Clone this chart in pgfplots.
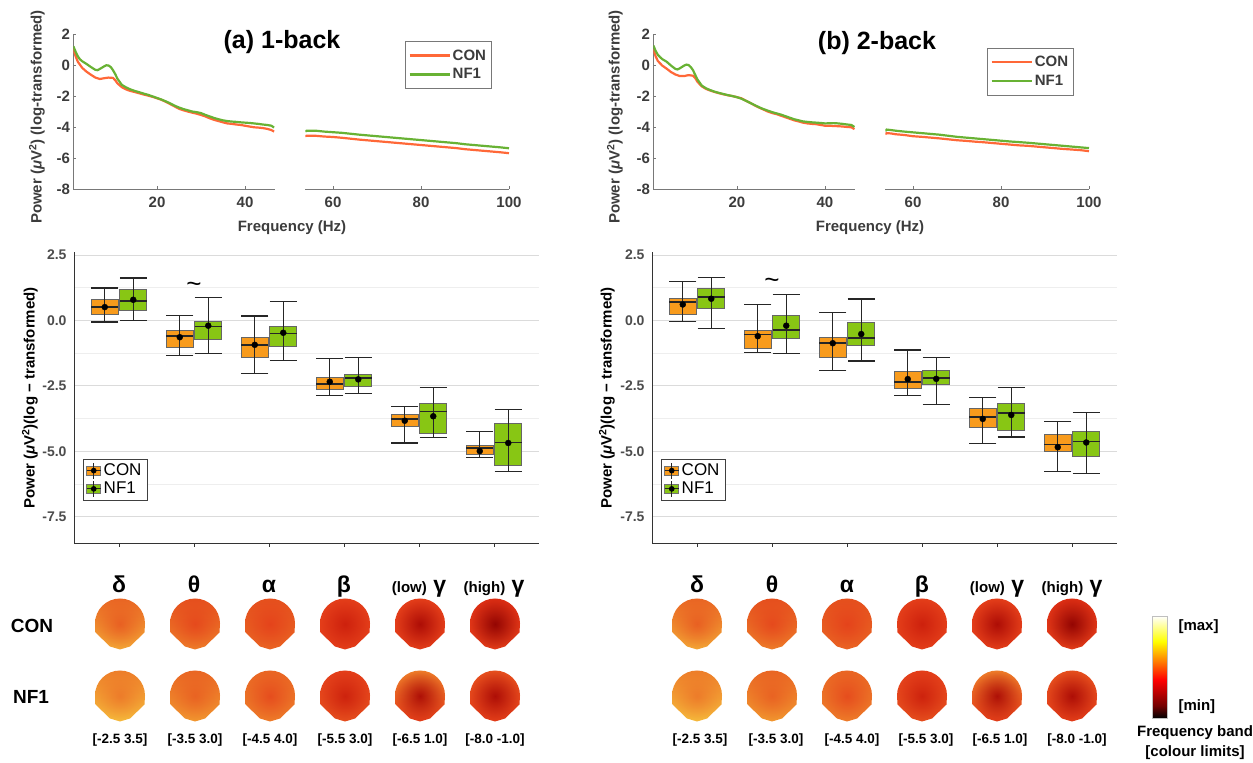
\documentclass[border=0pt]{standalone}
\usepackage{fontspec}
\setmainfont{Liberation Sans}
\usepackage{pgfplots}
\pgfplotsset{compat=1.18}
\usepgfplotslibrary{statistics}
\usetikzlibrary{fadings}

\definecolor{conline}{RGB}{255,104,56}
\definecolor{nfline}{RGB}{104,178,52}
\definecolor{conbox}{RGB}{248,155,28}
\definecolor{nfbox}{RGB}{136,198,20}
\definecolor{axgray}{RGB}{120,120,120}
\definecolor{txtgray}{RGB}{60,60,60}
% topo palette
\definecolor{y1}{HTML}{F6BC3C}
\definecolor{o1}{HTML}{F29A30}
\definecolor{o2}{HTML}{EE7E2A}
\definecolor{o3}{HTML}{EA6624}
\definecolor{o4}{HTML}{E6501E}
\definecolor{r1}{HTML}{E43E1A}
\definecolor{r2}{HTML}{DC2E14}
\definecolor{r3}{HTML}{C81A0A}
\definecolor{r4}{HTML}{A80804}
\definecolor{r5}{HTML}{8C0000}

\newcommand{\fs}[1]{\fontsize{#1}{#1}\selectfont}

\tikzfading[name=centrefade, inner color=transparent!0, outer color=transparent!100]
\pgfdeclareverticalshading{hotmap}{100bp}{color(0bp)=(black); color(25bp)=(black); color(31bp)=(red!45!black); color(43.75bp)=(red); color(53bp)=(orange); color(62.5bp)=(yellow); color(75bp)=(white); color(100bp)=(white)}

\pgfplotsset{
  spec/.style={scale only axis, height=154.3pt, ymin=-8, ymax=2,
    ytick={-8,-6,-4,-2,0,2},
    axis line style={axgray, line width=0.8pt},
    tick style={axgray, line width=0.6pt}, tick align=inside, major tick length=3pt,
    ticklabel style={font=\bfseries\fs{15}, text=txtgray},
    xticklabel shift=5pt,
    /pgf/number format/assume math mode=true},
  lineleg/.style={legend style={anchor=north west, draw=axgray, line width=0.8pt,
    font=\bfseries\fs{15}, text=txtgray, cells={anchor=west},
    inner ysep=6pt, inner xsep=3pt, row sep=3pt}},
  bx/.style={scale only axis, width=465pt, height=290.6pt,
    xmin=0.4, xmax=6.6, ymin=-8.5, ymax=2.6, clip=false,
    axis lines*=left, axis line style={black!80, line width=0.9pt},
    xtick={1,2,3,4,5,6}, ytick={-7.5,-5,-2.5,0,2.5},
    minor ytick={-6.25,-3.75,-1.25,1.25},
    ymajorgrids, yminorgrids,
    major grid style={gray!28, line width=1pt},
    minor grid style={gray!13, line width=0.9pt},
    xtick style={black!80, line width=0.8pt}, ytick style={draw=none},
    tick align=outside, major tick length=4pt,
    yticklabel={\pgfmathprintnumber[fixed,fixed zerofill,precision=1,assume math mode=true]{\tick}},
    yticklabel style={font=\bfseries\fs{14}, text=black!70},
    xticklabels={δ,θ,α,β,{{\fs{15}(low)} γ},{{\fs{15}(high)} γ}},
    xticklabel style={font=\bfseries\fs{23}, anchor=base, yshift=-46pt},
    boxplot/draw direction=y,
    boxplot/every box/.style={draw=black!60, line width=0.8pt},
    boxplot/every whisker/.style={black!85, line width=1.1pt},
    boxplot/every median/.style={black!85, line width=1.8pt},
    legend style={at={(0.019,0.289)}, anchor=north west, draw=black!75,
      line width=0.8pt, font=\fs{17}, cells={anchor=west}, nodes={inner sep=2.5pt}}}
}

% position, lower whisker, lower quartile, median, upper quartile, upper whisker, mean, colour
\newcommand{\bx}[8]{%
  \addplot[forget plot, fill=#8, boxplot prepared={draw position=#1,
    lower whisker=#2, lower quartile=#3, median=#4, upper quartile=#5,
    upper whisker=#6, box extend=0.36, whisker extend=0.36}] coordinates {};
  \addplot[forget plot, black!85, line width=1.1pt] coordinates {(#1,#2) (#1,#6)};
  \addplot[forget plot, only marks, mark=*, mark size=3pt, black] coordinates {(#1,#7)};
}

\newcommand{\boxleg}[1]{%
  \addlegendimage{legend image code/.code={
    \draw[fill=#1, draw=black!55, line width=0.6pt] (0pt,-4.5pt) rectangle (14pt,4.5pt);
    \draw[black!85, line width=0.8pt] (7pt,-8pt) -- (7pt,8pt);
    \draw[black!85, line width=1pt] (0pt,0pt) -- (14pt,0pt);
    \fill[black] (7pt,0pt) circle (2.4pt);}}}

% x, y, top colour, bottom colour, centre colour, centre opacity
\newcommand{\head}[6]{%
  \begin{scope}[shift={(#1pt,#2pt)}]
    \shade[top color=#3, bottom color=#4] (-25pt,0pt) arc[start angle=180,end angle=0,radius=25pt]
      -- (24.5pt,-9pt) -- (10pt,-23pt) -- (0pt,-26pt) -- (-10pt,-23pt) -- (-24.5pt,-9pt) -- cycle;
    \fill[#5, path fading=centrefade, fill opacity=#6] (-25pt,0pt) arc[start angle=180,end angle=0,radius=25pt]
      -- (24.5pt,-9pt) -- (10pt,-23pt) -- (0pt,-26pt) -- (-10pt,-23pt) -- (-24.5pt,-9pt) -- cycle;
  \end{scope}}

\begin{document}
\begin{tikzpicture}
\useasboundingbox (0pt,0pt) rectangle (1253pt,763pt);

% ---------------- (a) spectra ----------------
\begin{axis}[spec, at={(73.4pt,574pt)}, anchor=south west, width=201.1pt,
  xmin=1, xmax=46.7, xtick={20,40}, axis x line*=bottom, axis y line*=left]
\addplot[conline, line width=2.2pt] coordinates {
(1,1.1) (1.5,0.6) (2,0.25) (2.5,0.05) (3,-0.15) (4,-0.4) (5,-0.6) (6,-0.78) (7,-0.87)
(8,-0.82) (9,-0.78) (10,-0.8) (10.5,-0.95) (11,-1.15) (12,-1.4) (13,-1.55) (14,-1.65)
(15,-1.72) (16,-1.8) (17,-1.88) (18,-1.95) (19,-2.03) (20,-2.12) (21,-2.22) (22,-2.35)
(23,-2.5) (24,-2.65) (25,-2.8) (26,-2.9) (27,-2.98) (28,-3.05) (29,-3.12) (30,-3.2)
(31,-3.3) (32,-3.42) (33,-3.52) (34,-3.6) (35,-3.68) (36,-3.75) (37,-3.78) (38,-3.82)
(39,-3.85) (40,-3.9) (41,-3.95) (42,-4.0) (43,-4.02) (44,-4.05) (45,-4.1) (46,-4.18) (46.6,-4.28)};
\addplot[nfline, line width=2.2pt] coordinates {
(1,1.25) (1.5,0.9) (2,0.6) (2.5,0.4) (3,0.28) (4,0.1) (5,-0.1) (6,-0.28) (6.5,-0.3)
(7,-0.22) (8,-0.05) (8.5,0.02) (9,0.0) (9.5,-0.1) (10,-0.3) (10.5,-0.55) (11,-0.85)
(11.5,-1.05) (12,-1.25) (13,-1.42) (14,-1.55) (15,-1.65) (16,-1.73) (17,-1.82) (18,-1.9)
(19,-2.0) (20,-2.1) (21,-2.2) (22,-2.32) (23,-2.45) (24,-2.6) (25,-2.72) (26,-2.82)
(27,-2.9) (28,-2.98) (29,-3.02) (30,-3.08) (31,-3.2) (32,-3.3) (33,-3.4) (34,-3.48)
(35,-3.55) (36,-3.6) (37,-3.63) (38,-3.65) (39,-3.68) (40,-3.7) (41,-3.72) (42,-3.75)
(43,-3.78) (44,-3.82) (45,-3.85) (46,-3.9) (46.6,-4.02)};
\end{axis}
\begin{axis}[spec, at={(305.3pt,574pt)}, anchor=south west, width=203.7pt,
  xmin=53.7, xmax=100, xtick={60,80,100}, ytick=\empty, axis x line*=bottom, axis y line=none,
  lineleg, legend style={at={(0.49,0.958)}},
  legend image code/.code={\draw[#1, line width=2.2pt] (0pt,0pt) -- (40pt,0pt);}]
\addplot[conline, line width=2.2pt] coordinates {
(53.7,-4.58) (54,-4.55) (56,-4.55) (58,-4.6) (60,-4.63) (62,-4.68) (64,-4.74) (66,-4.8)
(68,-4.85) (70,-4.9) (72,-4.95) (74,-5.0) (76,-5.05) (78,-5.1) (80,-5.15) (82,-5.2)
(84,-5.25) (86,-5.3) (88,-5.35) (90,-5.42) (92,-5.47) (94,-5.52) (96,-5.57) (98,-5.62) (100,-5.68)};
\addplot[nfline, line width=2.2pt] coordinates {
(53.7,-4.28) (54,-4.22) (56,-4.22) (58,-4.28) (60,-4.32) (62,-4.36) (64,-4.42) (66,-4.48)
(68,-4.53) (70,-4.58) (72,-4.63) (74,-4.68) (76,-4.73) (78,-4.78) (80,-4.83) (82,-4.88)
(84,-4.93) (86,-4.98) (88,-5.03) (90,-5.1) (92,-5.15) (94,-5.2) (96,-5.25) (98,-5.3) (100,-5.36)};
\legend{CON,NF1}
\end{axis}

% ---------------- (b) spectra ----------------
\begin{axis}[spec, at={(653.4pt,574pt)}, anchor=south west, width=201.5pt,
  xmin=1, xmax=46.8, xtick={20,40}, axis x line*=bottom, axis y line*=left]
\addplot[conline, line width=2.2pt] coordinates {
(1,1.05) (1.5,0.6) (2,0.3) (2.5,0.15) (3,0.0) (4,-0.2) (5,-0.42) (6,-0.58) (7,-0.68)
(8,-0.68) (9,-0.62) (10,-0.66) (10.5,-0.8) (11,-1.05) (12,-1.35) (13,-1.52) (14,-1.63)
(15,-1.72) (16,-1.8) (17,-1.87) (18,-1.93) (19,-1.98) (20,-2.05) (21,-2.12) (22,-2.28)
(23,-2.42) (24,-2.58) (25,-2.72) (26,-2.85) (27,-2.98) (28,-3.08) (29,-3.15) (30,-3.25)
(31,-3.35) (32,-3.45) (33,-3.55) (34,-3.62) (35,-3.7) (36,-3.75) (37,-3.78) (38,-3.8)
(39,-3.85) (40,-3.9) (41,-3.9) (42,-3.92) (43,-3.93) (44,-3.95) (45,-3.98) (46,-4.0) (46.7,-4.12)};
\addplot[nfline, line width=2.2pt] coordinates {
(1,1.3) (1.5,0.95) (2,0.7) (2.5,0.55) (3,0.42) (4,0.25) (5,0.0) (6,-0.22) (6.5,-0.25)
(7,-0.18) (8,0.0) (8.5,0.06) (9,0.03) (9.5,-0.1) (10,-0.3) (10.5,-0.6) (11,-0.9)
(11.5,-1.1) (12,-1.3) (13,-1.48) (14,-1.6) (15,-1.7) (16,-1.78) (17,-1.85) (18,-1.92)
(19,-1.98) (20,-2.05) (21,-2.15) (22,-2.28) (23,-2.42) (24,-2.56) (25,-2.7) (26,-2.82)
(27,-2.92) (28,-3.02) (29,-3.1) (30,-3.18) (31,-3.28) (32,-3.38) (33,-3.48) (34,-3.55)
(35,-3.62) (36,-3.65) (37,-3.68) (38,-3.7) (39,-3.72) (40,-3.75) (41,-3.74) (42,-3.73)
(43,-3.75) (44,-3.78) (45,-3.82) (46,-3.85) (46.7,-3.98)};
\end{axis}
\begin{axis}[spec, at={(885.3pt,574pt)}, anchor=south west, width=203.7pt,
  xmin=53.7, xmax=100, xtick={60,80,100}, ytick=\empty, axis x line*=bottom, axis y line=none,
  lineleg, legend style={at={(0.5,0.914)}},
  legend image code/.code={\draw[#1, line width=2.2pt] (0pt,0pt) -- (40pt,0pt);}]
\addplot[conline, line width=2.2pt] coordinates {
(53.7,-4.45) (54,-4.38) (55,-4.4) (56,-4.45) (58,-4.5) (60,-4.58) (62,-4.62) (64,-4.67)
(66,-4.72) (68,-4.78) (70,-4.84) (72,-4.88) (74,-4.93) (76,-4.97) (78,-5.02) (80,-5.07)
(82,-5.12) (84,-5.17) (86,-5.2) (88,-5.25) (90,-5.3) (92,-5.35) (94,-5.4) (96,-5.44) (98,-5.48) (100,-5.55)};
\addplot[nfline, line width=2.2pt] coordinates {
(53.7,-4.25) (54,-4.15) (55,-4.18) (56,-4.22) (58,-4.28) (60,-4.33) (62,-4.38) (64,-4.43)
(66,-4.48) (68,-4.55) (70,-4.62) (72,-4.67) (74,-4.72) (76,-4.77) (78,-4.82) (80,-4.87)
(82,-4.92) (84,-4.96) (86,-5.0) (88,-5.05) (90,-5.1) (92,-5.15) (94,-5.2) (96,-5.25) (98,-5.3) (100,-5.35)};
\legend{CON,NF1}
\end{axis}

\begin{scope}[font=\bfseries, text=txtgray]
\node[font=\bfseries\fs{25}, text=black] at (282pt,721pt) {(a) 1-back};
\node[font=\bfseries\fs{25}, text=black] at (877pt,720pt) {(b) 2-back};
\node[font=\bfseries\fs{15}] at (292pt,535pt) {Frequency (Hz)};
\node[font=\bfseries\fs{15}] at (870pt,535pt) {Frequency (Hz)};
\node[font=\bfseries\fs{15}, rotate=90] at (37pt,646pt) {Power (\textit{μ}V\textsuperscript{2}) (log-transformed)};
\node[font=\bfseries\fs{15}, rotate=90] at (615pt,646pt) {Power (\textit{μ}V\textsuperscript{2}) (log-transformed)};
\end{scope}

% ---------------- (a) band power ----------------
\begin{axis}[bx, at={(74pt,220pt)}, anchor=south west]
\boxleg{conbox}\addlegendentry{CON}
\boxleg{nfbox}\addlegendentry{NF1}
\bx{0.81}{-0.06}{0.23}{0.51}{0.79}{1.24}{0.51}{conbox}
\bx{1.19}{-0.01}{0.38}{0.74}{1.17}{1.62}{0.79}{nfbox}
\bx{1.81}{-1.34}{-1.02}{-0.59}{-0.38}{0.20}{-0.64}{conbox}
\bx{2.19}{-1.25}{-0.71}{-0.23}{-0.03}{0.87}{-0.20}{nfbox}
\bx{2.81}{-2.04}{-1.40}{-0.94}{-0.66}{0.17}{-0.93}{conbox}
\bx{3.19}{-1.52}{-0.99}{-0.50}{-0.23}{0.73}{-0.47}{nfbox}
\bx{3.81}{-2.88}{-2.64}{-2.42}{-2.17}{-1.44}{-2.34}{conbox}
\bx{4.19}{-2.78}{-2.50}{-2.20}{-2.05}{-1.43}{-2.25}{nfbox}
\bx{4.81}{-4.68}{-4.06}{-3.76}{-3.59}{-3.27}{-3.83}{conbox}
\bx{5.19}{-4.46}{-4.31}{-3.48}{-3.17}{-2.56}{-3.66}{nfbox}
\bx{5.81}{-5.25}{-5.10}{-4.88}{-4.76}{-4.24}{-4.99}{conbox}
\bx{6.19}{-5.77}{-5.55}{-4.66}{-3.94}{-3.41}{-4.68}{nfbox}
\node[font=\fs{26}] at (axis cs:2,1.26) {\textasciitilde};
\end{axis}

% ---------------- (b) band power ----------------
\begin{axis}[bx, at={(652pt,220pt)}, anchor=south west]
\boxleg{conbox}\addlegendentry{CON}
\boxleg{nfbox}\addlegendentry{NF1}
\bx{0.81}{-0.03}{0.23}{0.70}{0.83}{1.49}{0.61}{conbox}
\bx{1.19}{-0.29}{0.45}{0.89}{1.24}{1.63}{0.83}{nfbox}
\bx{1.81}{-1.24}{-1.08}{-0.54}{-0.38}{0.61}{-0.60}{conbox}
\bx{2.19}{-1.27}{-0.68}{-0.36}{0.19}{0.98}{-0.20}{nfbox}
\bx{2.81}{-1.90}{-1.43}{-0.87}{-0.64}{0.31}{-0.87}{conbox}
\bx{3.19}{-1.55}{-0.96}{-0.68}{-0.08}{0.82}{-0.52}{nfbox}
\bx{3.81}{-2.87}{-2.60}{-2.36}{-1.95}{-1.13}{-2.24}{conbox}
\bx{4.19}{-3.21}{-2.46}{-2.19}{-1.91}{-1.41}{-2.23}{nfbox}
\bx{4.81}{-4.70}{-4.08}{-3.69}{-3.36}{-2.93}{-3.76}{conbox}
\bx{5.19}{-4.45}{-4.19}{-3.53}{-3.18}{-2.57}{-3.61}{nfbox}
\bx{5.81}{-5.76}{-5.02}{-4.74}{-4.36}{-3.86}{-4.84}{conbox}
\bx{6.19}{-5.83}{-5.20}{-4.62}{-4.22}{-3.52}{-4.66}{nfbox}
\node[font=\fs{26}] at (axis cs:2,1.41) {\textasciitilde};
\end{axis}

\node[font=\bfseries\fs{15}, rotate=90] at (30pt,365pt) {Power (\textit{μ}V\textsuperscript{2})(log − transformed)};
\node[font=\bfseries\fs{15}, rotate=90] at (607pt,365pt) {Power (\textit{μ}V\textsuperscript{2})(log − transformed)};

% ---------------- topographies ----------------
\node[font=\bfseries\fs{19}] at (32pt,137pt) {CON};
\node[font=\bfseries\fs{19}] at (31pt,66pt) {NF1};

\head{120}{139.5}{o3}{y1!70!o2}{o4}{0.7}
\head{195}{139.5}{o4}{o2}{r1}{0.7}
\head{270}{139.5}{o4}{o3}{r1}{0.8}
\head{345}{139.5}{r1}{r1}{r3}{0.8}
\head{420}{139.5}{r1}{r1}{r4}{0.9}
\head{495}{139.5}{r2}{r1}{r5}{0.9}
\head{120}{67.5}{o2}{y1}{o3}{0.6}
\head{195}{67.5}{o3}{o1}{o4}{0.6}
\head{270}{67.5}{o3}{o2}{r1}{0.7}
\head{345}{67.5}{r1}{o4}{r3}{0.8}
\head{420}{67.5}{o2}{r1}{r4}{0.9}
\head{495}{67.5}{o4}{r1}{r4}{0.9}

\head{697}{139.5}{o3}{y1!70!o2}{o4}{0.7}
\head{772}{139.5}{o4}{o2}{r1}{0.7}
\head{847}{139.5}{o4}{o3}{r1}{0.8}
\head{922}{139.5}{r1}{r1}{r3}{0.8}
\head{997}{139.5}{r1}{r1}{r4}{0.9}
\head{1072}{139.5}{r2}{r1}{r5}{0.9}
\head{697}{67.5}{o2}{y1}{o3}{0.6}
\head{772}{67.5}{o3}{o1}{o4}{0.6}
\head{847}{67.5}{o3}{o2}{r1}{0.7}
\head{922}{67.5}{r1}{o4}{r3}{0.8}
\head{997}{67.5}{o2}{r1}{r4}{0.9}
\head{1072}{67.5}{o4}{r1}{r4}{0.9}

\begin{scope}[font=\bfseries\fs{13.5}]
\node at (120pt,23pt) {[-2.5 3.5]};
\node at (195pt,23pt) {[-3.5 3.0]};
\node at (270pt,23pt) {[-4.5 4.0]};
\node at (345pt,23pt) {[-5.5 3.0]};
\node at (420pt,23pt) {[-6.5 1.0]};
\node at (495pt,23pt) {[-8.0 -1.0]};
\node at (700pt,23pt) {[-2.5 3.5]};
\node at (776pt,23pt) {[-3.5 3.0]};
\node at (852pt,23pt) {[-4.5 4.0]};
\node at (926pt,23pt) {[-5.5 3.0]};
\node at (1000pt,23pt) {[-6.5 1.0]};
\node at (1077pt,23pt) {[-8.0 -1.0]};
\end{scope}

% colour bar
\shade[shading=hotmap, draw=gray!50, line width=0.6pt] (1152pt,45pt) rectangle (1167pt,147pt);
\node[font=\bfseries\fs{15}, anchor=west] at (1175pt,136pt) {[max]};
\node[font=\bfseries\fs{15}, anchor=west] at (1175pt,56pt) {[min]};
\node[font=\bfseries\fs{15}] at (1195pt,30pt) {Frequency band};
\node[font=\bfseries\fs{15}] at (1195pt,10pt) {[colour limits]};
\end{tikzpicture}
\end{document}
